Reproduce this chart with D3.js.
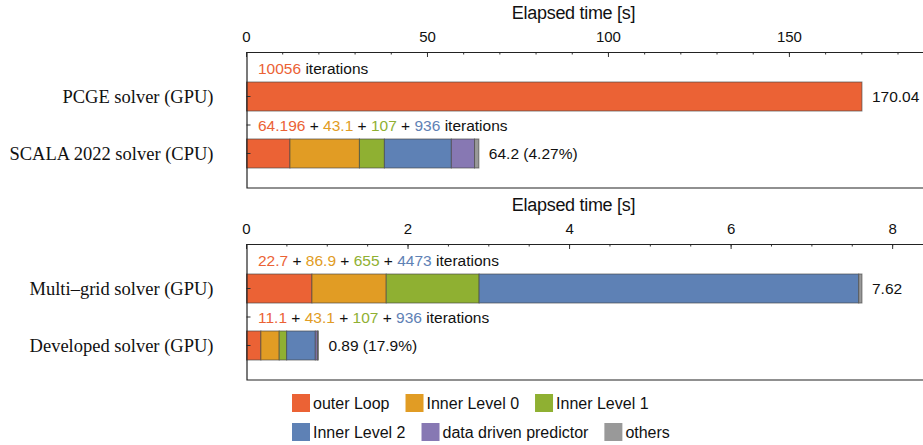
<!DOCTYPE html>
<html>
<head>
<meta charset="utf-8">
<script src="https://cdn.jsdelivr.net/npm/d3@7"></script>
<style>
  body { margin: 0; background: #fff; }
  svg { display: block; }
</style>
</head>
<body>
<div id="chart"></div>
<script>
// legend / stack segments
const segmentNames = ["outer Loop", "Inner Level 0", "Inner Level 1", "Inner Level 2", "data driven predictor", "others"];
const segmentColors = ["#EB6235", "#E19C24", "#8FB032", "#5E81B5", "#8778B3", "#999999"];

// upper panel
const topSolvers = ["PCGE solver (GPU)", "SCALA 2022 solver (CPU)"];
const pcgeTimes = [170.04, 0, 0, 0, 0, 0];
const scalaTimes = [12.0, 19.2, 6.9, 18.5, 6.4, 1.2];
const topValueLabels = ["170.04", "64.2 (4.27%)"];
const topIterations = [["10056"], ["64.196", "43.1", "107", "936"]];
const topTicks = [0, 50, 100, 150];

// lower panel
const bottomSolvers = ["Multi\u2013grid solver (GPU)", "Developed solver (GPU)"];
const multigridTimes = [0.81, 0.92, 1.15, 4.70, 0, 0.04];
const developedTimes = [0.178, 0.227, 0.092, 0.355, 0.026, 0.012];
const bottomValueLabels = ["7.62", "0.89 (17.9%)"];
const bottomIterations = [["22.7", "86.9", "655", "4473"], ["11.1", "43.1", "107", "936"]];
const bottomTicks = [0, 2, 4, 6, 8];

const width = 923, height = 445;
const left = 246.5, plotW = 677, panelH = 136;

const svg = d3.select('#chart').append('svg')
  .attr('width', width)
  .attr('height', height);

function drawPanel(top, solvers, series, valueLabels, iterations, majorTicks, minorStep) {
  const total = d3.max(series, s => d3.sum(s));
  const x = d3.scaleLinear().domain([0, total * 1.1]).range([0, plotW]);
  const y = d3.scaleBand().domain(solvers).range([30, 116]).paddingInner(0.491).paddingOuter(0);

  const g = svg.append('g').attr('transform', `translate(${left},${top})`);

  // title
  g.append('text')
    .attr('x', 327).attr('y', -39)
    .attr('dy', '0.35em')
    .attr('text-anchor', 'middle')
    .style('font-family', 'Liberation Sans, Arial, sans-serif')
    .style('font-size', '18px')
    .style('letter-spacing', '-0.3px')
    .attr('fill', '#111')
    .text('Elapsed time [s]');

  // top axis with inward ticks
  const minor = d3.range(0, x.domain()[1], minorStep);
  g.selectAll('.minor').data(minor).enter().append('line')
    .attr('x1', d => x(d)).attr('x2', d => x(d))
    .attr('y1', 0).attr('y2', 2.5)
    .attr('stroke', '#333').attr('stroke-width', 1);
  g.selectAll('.major').data(majorTicks).enter().append('line')
    .attr('x1', d => x(d)).attr('x2', d => x(d))
    .attr('y1', 0).attr('y2', 5)
    .attr('stroke', '#333').attr('stroke-width', 1);
  g.selectAll('.ticklabel').data(majorTicks).enter().append('text')
    .attr('x', d => x(d)).attr('y', -15.5)
    .attr('dy', '0.35em')
    .attr('text-anchor', 'middle')
    .style('font-family', 'Liberation Sans, Arial, sans-serif')
    .style('font-size', '15px')
    .attr('fill', '#111')
    .text(d => d);

  // bars
  series.forEach((vals, i) => {
    let acc = 0;
    vals.forEach((v, k) => {
      if (v > 0) {
        g.append('rect')
          .attr('x', x(acc)).attr('y', y(solvers[i]))
          .attr('width', x(acc + v) - x(acc))
          .attr('height', y.bandwidth())
          .attr('fill', segmentColors[k])
          .attr('stroke', '#444').attr('stroke-opacity', 0.65).attr('stroke-width', 1);
      }
      acc += v;
    });

    // value label
    g.append('text')
      .attr('x', x(acc) + 10).attr('y', y(solvers[i]) + y.bandwidth() / 2)
      .attr('dy', '0.35em')
      .style('font-family', 'Liberation Sans, Arial, sans-serif')
      .style('font-size', '15.5px')
      .attr('fill', '#111')
      .text(valueLabels[i]);

    // iterations annotation
    const t = g.append('text')
      .attr('x', 11.5).attr('y', y(solvers[i]) - 13.5)
      .attr('dy', '0.35em')
      .style('font-family', 'Liberation Sans, Arial, sans-serif')
      .style('font-size', '15.5px')
      .attr('fill', '#111');
    iterations[i].forEach((n, k) => {
      if (k > 0) t.append('tspan').attr('fill', '#111').text(' + ');
      t.append('tspan').attr('fill', segmentColors[k]).text(n);
    });
    t.append('tspan').attr('fill', '#111').text(' iterations');

    // category label
    g.append('text')
      .attr('x', -33).attr('y', y(solvers[i]) + y.bandwidth() / 2)
      .attr('dy', '0.35em')
      .attr('text-anchor', 'end')
      .style('font-family', 'Liberation Serif, Times New Roman, serif')
      .style('font-size', '18.5px')
      .attr('fill', '#111')
      .text(solvers[i]);
  });

  // left ticks at band centres and between bars
  const c0 = y(solvers[0]) + y.bandwidth() / 2;
  const c1 = y(solvers[1]) + y.bandwidth() / 2;
  [c0, (c0 + c1) / 2, c1].forEach(cy => {
    g.append('line')
      .attr('x1', 0).attr('x2', 4)
      .attr('y1', cy).attr('y2', cy)
      .attr('stroke', '#333').attr('stroke-width', 1);
  });

  // frame
  g.append('path')
    .attr('d', `M${plotW},0.5H0.5V${panelH}H${plotW}`)
    .attr('fill', 'none')
    .attr('stroke', '#222').attr('stroke-width', 1.2);
}

drawPanel(52, topSolvers, [pcgeTimes, scalaTimes], topValueLabels, topIterations, topTicks, 10);
drawPanel(244, bottomSolvers, [multigridTimes, developedTimes], bottomValueLabels, bottomIterations, bottomTicks, 0.5);

// legend, two rows flowing left to right
const legendRows = [[0, 1, 2], [3, 4, 5]];
legendRows.forEach((row, r) => {
  let lx = 292;
  const ly = 394 + r * 29;
  row.forEach(k => {
    svg.append('rect')
      .attr('x', lx).attr('y', ly)
      .attr('width', 18).attr('height', 18)
      .attr('fill', segmentColors[k]);
    const t = svg.append('text')
      .attr('x', lx + 21).attr('y', ly + 9)
      .attr('dy', '0.35em')
      .style('font-family', 'Liberation Sans, Arial, sans-serif')
      .style('font-size', '16px')
      .attr('fill', '#111')
      .text(segmentNames[k]);
    lx += 21 + t.node().getComputedTextLength() + 16;
  });
});
</script>
</body>
</html>
